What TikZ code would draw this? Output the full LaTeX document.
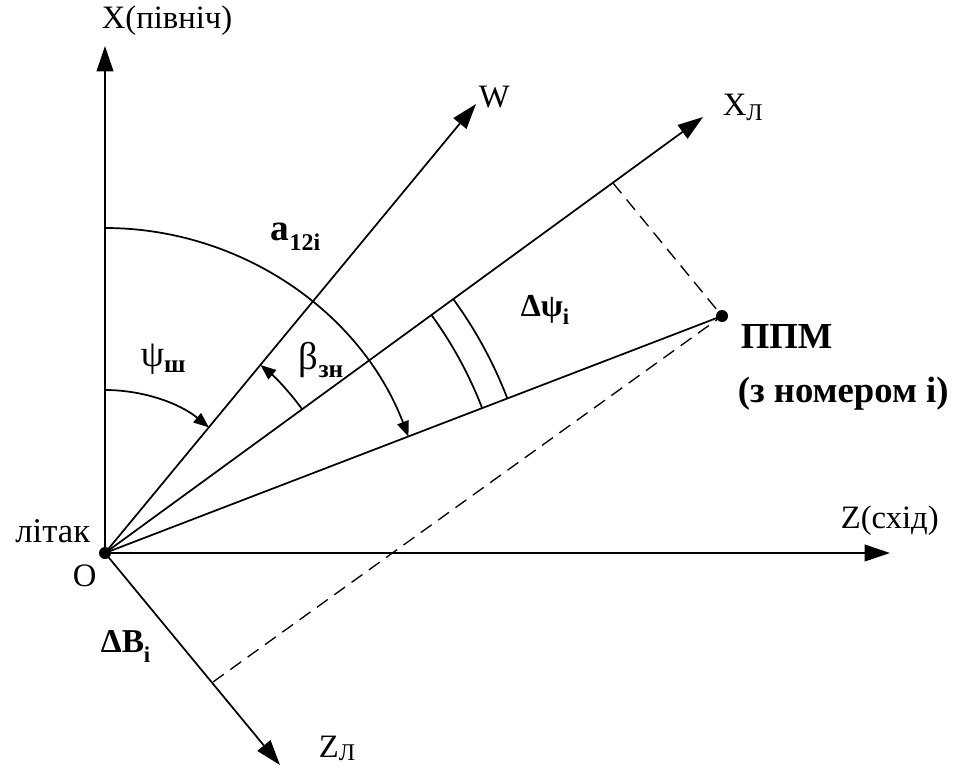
\documentclass[tikz,border=0pt]{standalone}
\usepackage{fontspec}
\setmainfont{Liberation Serif}
\usetikzlibrary{arrows.meta,calc}
\newcommand{\mysub}[3]{\raisebox{-#2}{\fontsize{#1}{#1}\selectfont #3}}
\begin{document}
\begin{tikzpicture}[x=0.75pt,y=-0.75pt,
  line width=1.3pt,
  axis/.style={-{Triangle[length=19pt,width=12.5pt]}},
  arcarrow/.style={-{Triangle[length=11.5pt,width=9pt]}},
  lbl/.style={inner sep=0pt, font=\fontsize{24.5pt}{26pt}\selectfont},
  blbl/.style={inner sep=0pt, font=\bfseries\fontsize{27.5pt}{30pt}\selectfont},
  glbl/.style={inner sep=0pt},
  proj/.style={dash pattern=on 10pt off 6pt, line width=1pt},
  dot/.style={circle, fill, inner sep=0pt, minimum size=9pt}
]
\useasboundingbox (0,0) rectangle (953,767);
% points
\coordinate (O) at (105,553);
\coordinate (Xn) at (105,46);
\coordinate (Ze) at (890,553);
\coordinate (W) at (476,104);
\coordinate (XL) at (703,117);
\coordinate (ZL) at (280,765);
\coordinate (P) at (722,316);
\coordinate (F1) at (613,183);
\coordinate (F2) at (213,682);
% axes and rays
\draw[axis] (O) -- (Xn);
\draw[axis] (O) -- (Ze);
\draw[axis] (O) -- (W);
\draw[axis] (O) -- (XL);
\draw[axis] (O) -- (ZL);
\draw (O) -- (P);
% projections
\draw[proj] (F1) -- (P);
\draw[proj] (F2) -- (P);
% angle arcs
\draw[arcarrow] ($(O)+(-90:325)$) arc[start angle=-90,end angle=-21,radius=325];
\draw[arcarrow] ($(O)+(-90:163)$) arc[start angle=-90,end angle=-50.4,radius=163];
\draw[arcarrow] ($(O)+(-36.1:244)$) arc[start angle=-36.1,end angle=-50.4,radius=244];
\draw ($(O)+(-36.1:404)$) arc[start angle=-36.1,end angle=-21,radius=404];
\draw ($(O)+(-36.1:431)$) arc[start angle=-36.1,end angle=-21,radius=431];
% dots
\node[dot] (Odot) at (O) {};
\node[dot] (Pdot) at (P) {};
% labels
\node[lbl, anchor=base west] (lX) at (101,29) {X(північ)};
\node[lbl, anchor=base west] (lW) at (478,108) {W};
\node[lbl, anchor=base west] (lXL) at (722,115) {X\mysub{18pt}{4pt}{Л}};
\node[lbl, anchor=base west] (lZ) at (840,528) {Z(схід)};
\node[lbl, anchor=base west] (lZL) at (318,757) {Z\mysub{18pt}{2.5pt}{Л}};
\node[lbl, anchor=base east] (lplane) at (91,542) {\fontsize{26pt}{28pt}\selectfont літак};
\node[lbl, anchor=base west] (lO) at (72,586) {O};
\node[blbl, anchor=base west] (lP) at (740,348) {ППМ};
\node[blbl, anchor=base west] (lPn) at (737,402) {(з номером і)};
\node[glbl, anchor=base west] (la) at (270,240) {\bfseries\fontsize{28pt}{30pt}\selectfont a\mysub{18pt}{7.5pt}{\bfseries 12i}};
\node[glbl, anchor=base west] (lpsi) at (140,366) {\fontsize{28pt}{30pt}\selectfont ψ\mysub{19pt}{5pt}{\bfseries ш}};
\node[glbl, anchor=base west] (lbeta) at (298,369) {\fontsize{29pt}{31pt}\selectfont β\mysub{19pt}{6.5pt}{\bfseries зн}};
\node[glbl, anchor=base west] (ldpsi) at (520,316) {\bfseries\fontsize{24pt}{26pt}\selectfont Δψ\mysub{17pt}{6pt}{\bfseries i}};
\node[glbl, anchor=base west] (ldB) at (100,652) {\bfseries\fontsize{25pt}{27pt}\selectfont ΔB\mysub{17pt}{8pt}{\bfseries i}};
\end{tikzpicture}
\end{document}
